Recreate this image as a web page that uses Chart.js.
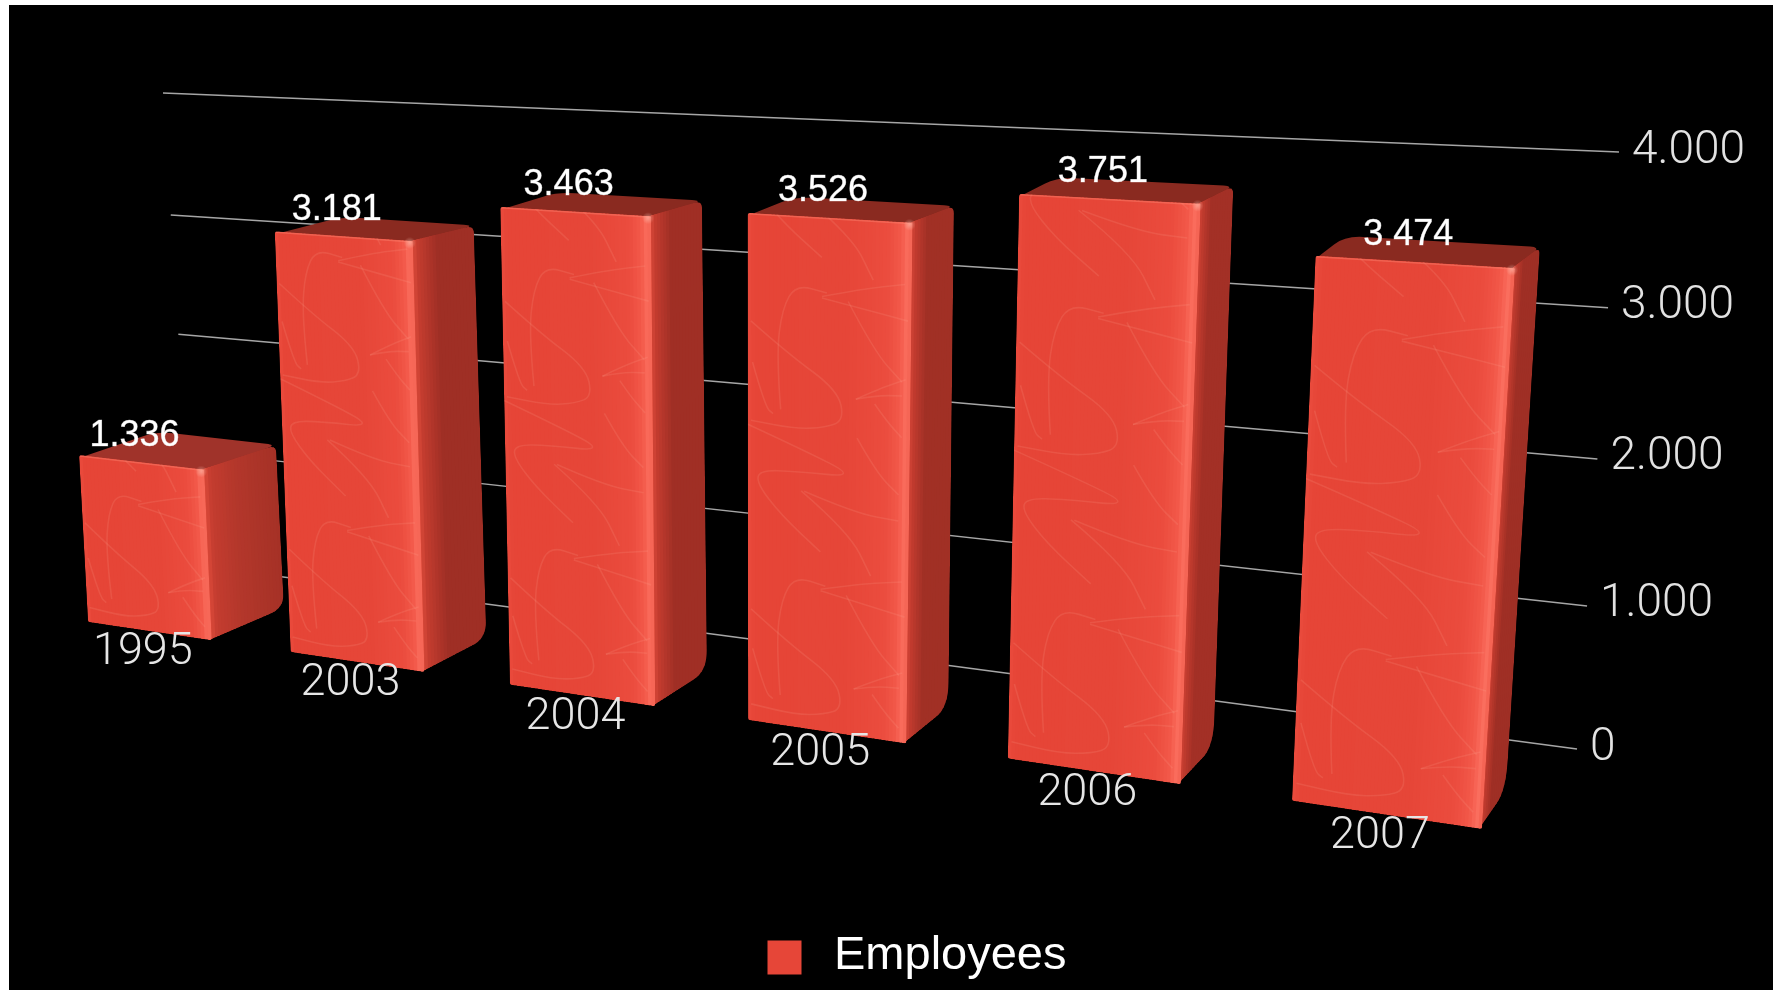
<!DOCTYPE html>
<html>
<head>
<meta charset="utf-8">
<style>
  html, body { margin: 0; padding: 0; background: #fff; overflow: hidden; }
  #frame { position: absolute; left: 9px; top: 5px; width: 1764px; height: 985px; background: #000; }
  canvas { display: block; }
</style>
<script src="https://cdn.jsdelivr.net/npm/chart.js@4/dist/chart.umd.js"></script>
</head>
<body>
<div id="frame"><canvas id="chart" width="1764" height="985"></canvas></div>
<script>
const categories = ['1995', '2003', '2004', '2005', '2006', '2007'];
const employees = [1336, 3181, 3463, 3526, 3751, 3474];
const seriesName = 'Employees';
const axisMax = 4000;
const axisStep = 1000;
const barColor = '#e64638';

// Camera planes: each maps normalised plot coordinates (u across, v up) to the page.
const FRAME = { x: 9, y: 5 };
const BAR_SHARE = 0.62;
const uLeft = (1 - BAR_SHARE) / 12, uRight = 1 - uLeft, uFirstRight = (1 + BAR_SHARE) / 12;
const frontPlane = [
  [uLeft, 0, 88, 622], [uRight, 0, 1482, 829],
  [uRight, 3474 / axisMax, 1515, 268], [uLeft, 1336 / axisMax, 79, 455]
];
const backPlane = [
  [uFirstRight, 0, 284, 608], [uRight, 0, 1506, 790],
  [uRight, 3474 / axisMax, 1540, 247], [uFirstRight, 1336 / axisMax, 276, 445]
];
const wallPlane = [
  [0, 0, 193, 565], [1, 0, 1577, 749], [1, 1, 1619, 152], [0, 1, 163, 93]
];

function solveHomography(pairs) {
  const m = [];
  pairs.forEach(([u, v, x, y]) => {
    m.push([u, v, 1, 0, 0, 0, -u * x, -v * x, x]);
    m.push([0, 0, 0, u, v, 1, -u * y, -v * y, y]);
  });
  for (let c = 0; c < 8; c++) {
    let p = c;
    for (let r = c + 1; r < 8; r++) if (Math.abs(m[r][c]) > Math.abs(m[p][c])) p = r;
    [m[c], m[p]] = [m[p], m[c]];
    for (let r = 0; r < 8; r++) {
      if (r === c) continue;
      const f = m[r][c] / m[c][c];
      for (let k = c; k < 9; k++) m[r][k] -= f * m[c][k];
    }
  }
  const h = m.map((row, i) => row[8] / row[i]);
  return (u, v) => {
    const w = h[6] * u + h[7] * v + 1;
    return [(h[0] * u + h[1] * v + h[2]) / w, (h[3] * u + h[4] * v + h[5]) / w];
  };
}
const toFront = solveHomography(frontPlane);
const toBack = solveHomography(backPlane);
const toWall = solveHomography(wallPlane);

const lerp = (a, b, t) => [a[0] + (b[0] - a[0]) * t, a[1] + (b[1] - a[1]) * t];
const hex = c => [parseInt(c.slice(1, 3), 16), parseInt(c.slice(3, 5), 16), parseInt(c.slice(5, 7), 16)];
function ramp(stops, s) {
  for (let i = 1; i < stops.length; i++) {
    if (s <= stops[i][0]) {
      const t = (s - stops[i - 1][0]) / (stops[i][0] - stops[i - 1][0]);
      const a = hex(stops[i - 1][1]), b = hex(stops[i][1]);
      return `rgb(${a.map((q, k) => Math.round(q + (b[k] - q) * t)).join(',')})`;
    }
  }
  return stops[stops.length - 1][1];
}

// Closed polygon with curved corners; each corner gives its cut along the previous and next edge.
function roundedPath(ctx, pts, cuts) {
  const n = pts.length;
  ctx.beginPath();
  pts.forEach((p, i) => {
    const prev = pts[(i + n - 1) % n], next = pts[(i + 1) % n];
    const [cutPrev, cutNext] = cuts[i];
    const dPrev = Math.hypot(prev[0] - p[0], prev[1] - p[1]);
    const dNext = Math.hypot(next[0] - p[0], next[1] - p[1]);
    const a = lerp(p, prev, Math.min(cutPrev / dPrev, 0.7));
    const b = lerp(p, next, Math.min(cutNext / dNext, 0.7));
    if (i === 0) ctx.moveTo(a[0], a[1]); else ctx.lineTo(a[0], a[1]);
    ctx.quadraticCurveTo(p[0], p[1], b[0], b[1]);
  });
  ctx.closePath();
}

// Shades a quad with bands that follow its perspective, from edge A to edge B.
function shadeBands(ctx, aTop, aBot, bTop, bBot, stops) {
  const count = Math.max(5, Math.floor(Math.hypot(bBot[0] - aBot[0], bBot[1] - aBot[1]) / 3.5));
  for (let k = 0; k < count; k++) {
    const s0 = k / count, s1 = Math.min((k + 1.5) / count, 1);
    const t0 = lerp(aTop, bTop, s0), t1 = lerp(aTop, bTop, s1);
    const b0 = lerp(aBot, bBot, s0), b1 = lerp(aBot, bBot, s1);
    ctx.fillStyle = ramp(stops, (k + 0.5) / count);
    ctx.beginPath();
    ctx.moveTo(t0[0], t0[1]); ctx.lineTo(t1[0], t1[1]);
    ctx.lineTo(b1[0], b1[1]); ctx.lineTo(b0[0], b0[1]);
    ctx.closePath();
    ctx.fill();
  }
}

// Faint hand-drawn strokes of the bar material; s runs across a face, w up one repeat.
const TEXTURE_REPEAT = 2000;
const textureStrokes = [
  [[.207, .107], [.18, .288], [.215, .449], [.30, .534], [.49, .513]],
  [[.02, .40], [.25, .30], [.56, .19], [.60, .09], [.486, .06], [.3, .045], [.02, .06]],
  [[.03, .26], [.11, .11], [.16, .09]],
  [[.67, .165], [.82, .21], [.97, .245]],
  [[.67, .165], [.80, .185], [.95, .19]],
  [[.46, .50], [.70, .535], [.96, .56]],
  [[.46, .495], [.70, .47], [.98, .44]],
  [[.62, .49], [.78, .33], [.95, .235]],
  [[.785, .155], [.86, .10], [.95, .05]],
  [[.00, 1.045], [.336, .978], [.69, .90], [.30, .90], [.075, .89], [.056, .845], [.206, .745], [.458, .63]],
  [[.336, .834], [.635, .71], [.77, .567]],
  [[.68, 1.034], [.80, .923], [.935, .856]],
  [[.355, .834], [.67, .778], [.935, .767]]
];

function drawTexture(ctx, uA, uB, value) {
  ctx.strokeStyle = 'rgba(255,175,155,0.14)';
  ctx.lineWidth = 1.6;
  ctx.lineJoin = 'round';
  const repeats = Math.ceil(value / TEXTURE_REPEAT) + 1;
  for (let r = 0; r < repeats; r++) {
    textureStrokes.forEach(stroke => {
      const pts = stroke.map(([s, w]) =>
        toFront(uA + (uB - uA) * s, (r + w) * TEXTURE_REPEAT / axisMax));
      ctx.beginPath();
      ctx.moveTo(pts[0][0], pts[0][1]);
      for (let i = 1; i < pts.length - 1; i++) {
        const mid = lerp(pts[i], pts[i + 1], 0.5);
        ctx.quadraticCurveTo(pts[i][0], pts[i][1], mid[0], mid[1]);
      }
      const last = pts[pts.length - 1];
      ctx.lineTo(last[0], last[1]);
      ctx.stroke();
    });
  }
}

const frontStops = [
  [0, '#ea4b3d'], [.04, '#e64537'], [.6, '#e64638'], [.85, '#eb4c3e'],
  [.93, '#f25849'], [.975, '#fb6f5f'], [1, '#f15e4e']
];

function drawBar(ctx, index, uA, uB, vTop, value) {
  const depthFade = index / (categories.length - 1);
  const fTL = toFront(uA, vTop), fTR = toFront(uB, vTop);
  const fBL = toFront(uA, 0), fBR = toFront(uB, 0);
  const bTL = toBack(uA, vTop), bTR = toBack(uB, vTop), bBR = toBack(uB, 0);

  // Upper face, tucked slightly under the front face
  const under = p => [p[0], p[1] + 3];
  ctx.save();
  roundedPath(ctx, [under(fTL), bTL, bTR, under(fTR)], [[0, 0], [14, 18], [10, 8], [0, 0]]);
  ctx.fillStyle = index === 0 ? '#a0332a' : '#8a2a20';
  ctx.fill();
  ctx.restore();

  // Right-hand face, tucked under the front face, with a soft lower back corner
  const sideEnd = index === 0 ? '#a53126' : ramp([[0, '#8a2a1f'], [1, '#6c2119']], depthFade);
  const tuck = p => [p[0] - 3, p[1]];
  ctx.save();
  roundedPath(ctx, [tuck(fTR), bTR, bBR, tuck(fBR)],
    [[0, 0], [8, 8], [14 + depthFade * 20, 16], [0, 0]]);
  ctx.clip();
  shadeBands(ctx, tuck(fTR), tuck(fBR), bTR, bBR, [
    [0, '#e4503f'], [.12, '#c43c2f'], [.45, index === 0 ? '#b3372b' : '#9c2e24'], [1, sideEnd]
  ]);
  ctx.restore();

  // Front face
  ctx.save();
  roundedPath(ctx, [fTL, fTR, fBR, fBL], [[3, 3], [3, 3], [2, 2], [2, 2]]);
  ctx.clip();
  shadeBands(ctx, fTL, fBL, fTR, fBR, frontStops);
  drawTexture(ctx, uA, uB, value);
  ctx.restore();

  // Lit rim along the upper edge and the glint at its right end
  ctx.strokeStyle = 'rgba(255,140,120,0.4)';
  ctx.lineWidth = 1.5;
  ctx.beginPath();
  ctx.moveTo(fTL[0] + 1, fTL[1] + 1);
  ctx.lineTo(fTR[0], fTR[1] + 1);
  ctx.stroke();
  const glint = ctx.createRadialGradient(fTR[0] - 3, fTR[1] + 2, 0, fTR[0] - 3, fTR[1] + 2, 6);
  glint.addColorStop(0, 'rgba(255,205,190,0.5)');
  glint.addColorStop(1, 'rgba(255,205,190,0)');
  ctx.fillStyle = glint;
  ctx.fillRect(fTR[0] - 10, fTR[1] - 5, 14, 14);
}

const perspectivePlugin = {
  id: 'perspectiveBars',
  // Normalised plot position of a scale pixel
  norm(chart, px, py) {
    const a = chart.chartArea;
    return [(px - a.left) / (a.right - a.left), (a.bottom - py) / (a.bottom - a.top)];
  },
  beforeDatasetsDraw(chart) {
    const ctx = chart.ctx, y = chart.scales.y, a = chart.chartArea;
    ctx.save();
    ctx.translate(-FRAME.x, -FRAME.y);
    ctx.strokeStyle = 'rgba(222,222,222,0.75)';
    ctx.lineWidth = 1.5;
    y.ticks.forEach(tick => {
      const v = this.norm(chart, a.left, y.getPixelForValue(tick.value))[1];
      const p0 = toWall(0, v), p1 = toWall(1, v);
      ctx.beginPath();
      ctx.moveTo(p0[0], p0[1]);
      ctx.lineTo(p1[0], p1[1]);
      ctx.stroke();
      ctx.fillStyle = '#e2e2e2';
      ctx.font = '300 46px Roboto, "Liberation Sans", sans-serif';
      ctx.textAlign = 'left';
      ctx.textBaseline = 'middle';
      ctx.fillText(tick.label, p1[0] + 13, p1[1] - 1);
    });
    ctx.restore();
  },
  beforeDatasetDraw(chart, args) {
    const ctx = chart.ctx, meta = args.meta;
    ctx.save();
    ctx.translate(-FRAME.x, -FRAME.y);
    meta.data.forEach((bar, i) => {
      const half = bar.width / 2;
      const uA = this.norm(chart, bar.x - half, bar.y)[0];
      const uB = this.norm(chart, bar.x + half, bar.y)[0];
      const vTop = this.norm(chart, bar.x, bar.y)[1];
      drawBar(ctx, i, uA, uB, vTop, chart.data.datasets[0].data[i]);
    });
    ctx.restore();
    return false;
  },
  afterDatasetsDraw(chart) {
    const ctx = chart.ctx, meta = chart.getDatasetMeta(0);
    ctx.save();
    ctx.translate(-FRAME.x, -FRAME.y);
    ctx.textAlign = 'center';
    ctx.textBaseline = 'middle';
    meta.data.forEach((bar, i) => {
      const half = bar.width / 2;
      const uA = this.norm(chart, bar.x - half, bar.y)[0];
      const uB = this.norm(chart, bar.x + half, bar.y)[0];
      const vTop = this.norm(chart, bar.x, bar.y)[1];
      const topMid = lerp(toFront(uA, vTop), toFront(uB, vTop), 0.5);
      const baseMid = lerp(toFront(uA, 0), toFront(uB, 0), 0.5);
      ctx.font = '36px "Liberation Sans", Arial, sans-serif';
      ctx.fillStyle = '#ffffff';
      ctx.strokeStyle = 'rgba(255,255,255,0.6)';
      ctx.lineWidth = 0.6;
      const text = chart.data.datasets[0].data[i].toLocaleString('de-DE');
      ctx.fillText(text, topMid[0] - 7, topMid[1] - 26.5);
      ctx.strokeText(text, topMid[0] - 7, topMid[1] - 26.5);
      ctx.font = '300 45px Roboto, "Liberation Sans", sans-serif';
      ctx.fillStyle = '#e6e6e6';
      ctx.fillText(chart.data.labels[i], baseMid[0] - 7, baseMid[1] + 22);
    });
    ctx.restore();
  },
  afterDraw(chart) {
    // Legend swatch, placed in the reserved slot of the legend entry
    const hit = chart.legend.legendHitBoxes[0];
    if (!hit) return;
    const ctx = chart.ctx, size = 34;
    ctx.save();
    ctx.fillStyle = chart.data.datasets[0].backgroundColor;
    ctx.fillRect(hit.left + 6, hit.top + hit.height / 2 - size / 2 + 1, size, size);
    ctx.restore();
  }
};

new Chart(document.getElementById('chart'), {
  type: 'bar',
  data: {
    labels: categories,
    datasets: [{
      label: seriesName,
      data: employees,
      backgroundColor: barColor,
      barPercentage: BAR_SHARE,
      categoryPercentage: 1
    }]
  },
  options: {
    responsive: false,
    animation: false,
    layout: { padding: { left: 46, top: 20, bottom: 0 } },
    scales: {
      x: { display: false, offset: true },
      y: {
        display: false,
        min: 0,
        max: axisMax,
        ticks: {
          stepSize: axisStep,
          callback: v => Number(v).toLocaleString('de-DE')
        }
      }
    },
    plugins: {
      tooltip: { enabled: false },
      legend: {
        position: 'bottom',
        labels: {
          color: '#ffffff',
          boxWidth: 49,
          boxHeight: 34,
          padding: 8,
          font: { family: '"Liberation Sans", Arial, sans-serif', size: 47 },
          generateLabels(chart) {
            const items = Chart.defaults.plugins.legend.labels.generateLabels(chart);
            items.forEach(item => {
              item.fillStyle = 'rgba(0,0,0,0)';
              item.strokeStyle = 'rgba(0,0,0,0)';
              item.lineWidth = 0;
            });
            return items;
          }
        }
      }
    }
  },
  plugins: [perspectivePlugin]
});
</script>
</body>
</html>
